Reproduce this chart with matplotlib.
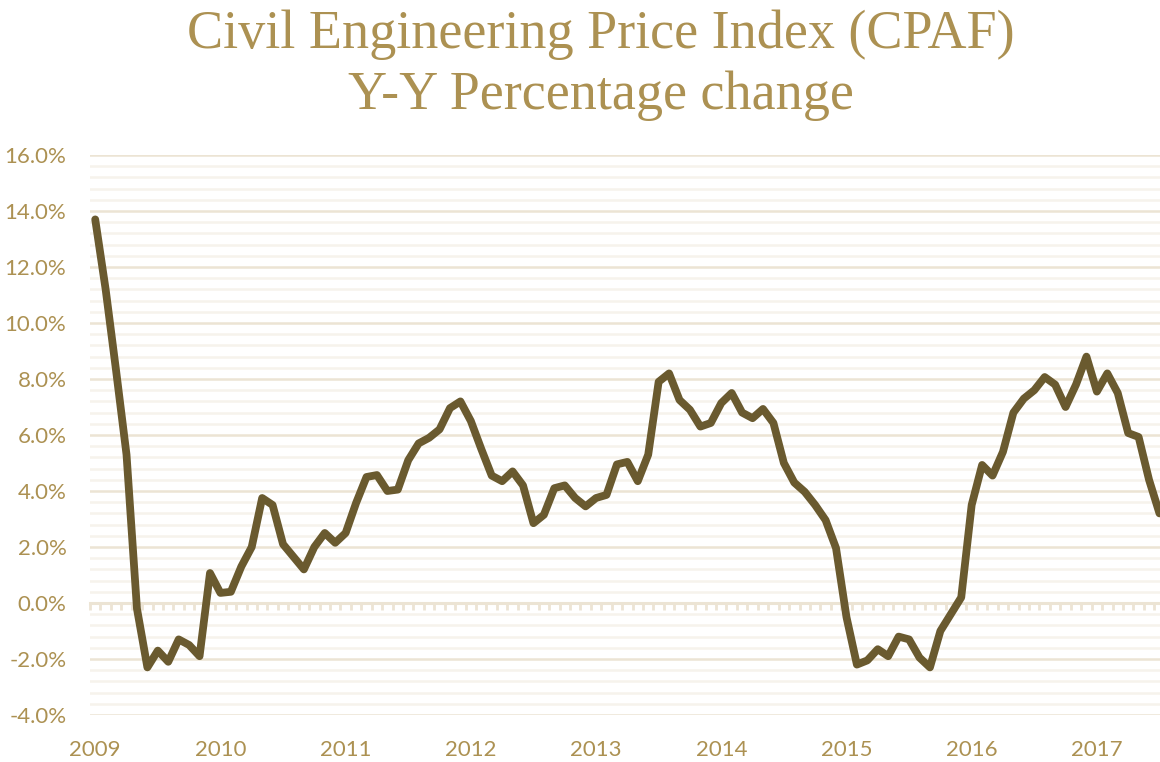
import matplotlib
matplotlib.use('Agg')
import matplotlib.pyplot as plt
from matplotlib.ticker import MultipleLocator, FixedLocator, NullFormatter, FuncFormatter

# monthly y/y change, Jan 2009 .. Jul 2017 (%)
yoy_change = [
    13.7, 11.2, 8.3, 5.3, -0.2, -2.3, -1.7, -2.1, -1.3, -1.5, -1.9, 1.07,
    0.36, 0.4, 1.3, 2.0, 3.75, 3.5, 2.1, 1.65, 1.2, 2.0, 2.5, 2.15,
    2.5, 3.57, 4.5, 4.57, 4.0, 4.05, 5.1, 5.7, 5.9, 6.2, 6.96, 7.2,
    6.5, 5.5, 4.55, 4.35, 4.7, 4.2, 2.85, 3.15, 4.1, 4.2, 3.75, 3.45,
    3.75, 3.86, 4.95, 5.04, 4.35, 5.3, 7.9, 8.2, 7.25, 6.9, 6.3, 6.43,
    7.14, 7.5, 6.8, 6.6, 6.93, 6.43, 5.0, 4.3, 3.97, 3.5, 2.96, 1.96,
    -0.5, -2.2, -2.05, -1.65, -1.9, -1.2, -1.3, -1.95, -2.3, -1.0, -0.4, 0.2,
    3.5, 4.93, 4.55, 5.4, 6.8, 7.3, 7.6, 8.07, 7.8, 7.0, 7.8, 8.8,
    7.55, 8.2, 7.5, 6.07, 5.93, 4.4, 3.2,
]
years = ['2009', '2010', '2011', '2012', '2013', '2014', '2015', '2016', '2017']

months = list(range(len(yoy_change)))
year_pos = [12 * i for i in range(len(years))]

GOLD = '#AC9152'
LINE = '#6A5A2F'
MAJOR = '#ECE4D4'
MINOR = '#F6F3EC'

fig = plt.figure(figsize=(11.6, 7.62), dpi=100)
ax = fig.add_axes([90 / 1160, 1 - 715 / 762, 1 - 90 / 1160, (715 - 155) / 762])

ax.plot(months, yoy_change, color=LINE, lw=5.6, solid_joinstyle='round',
        solid_capstyle='round', zorder=3)

ax.set_xlim(-0.5, months[-1] + 0.05)
ax.set_ylim(-4, 16)

ax.yaxis.set_major_locator(MultipleLocator(2))
ax.yaxis.set_minor_locator(MultipleLocator(0.4))
ax.yaxis.set_major_formatter(FuncFormatter(lambda v, p: '%.1f%%' % v))
ax.grid(axis='y', which='major', color=MAJOR, lw=1.8, zorder=0)
ax.grid(axis='y', which='minor', color=MINOR, lw=1.8, zorder=0)

ax.xaxis.set_major_locator(FixedLocator(year_pos))
ax.set_xticklabels(years)

for s in ax.spines.values():
    s.set_visible(False)
ax.tick_params(axis='both', which='both', length=0)
ax.tick_params(axis='y', labelsize=16, labelcolor=GOLD, pad=17)
ax.tick_params(axis='x', labelsize=16, labelcolor=GOLD, pad=18)
for lbl in ax.get_xticklabels() + ax.get_yticklabels():
    lbl.set_fontfamily('Lato')

# zero axis line with a tick at every month boundary
zero_ax = ax.secondary_xaxis(0.2)
zero_ax.spines['bottom'].set_color(MAJOR)
zero_ax.spines['bottom'].set_linewidth(2.2)
zero_ax.xaxis.set_major_locator(FixedLocator([m - 0.5 for m in months]))
zero_ax.xaxis.set_major_formatter(NullFormatter())
zero_ax.tick_params(axis='x', direction='out', length=5, width=2, color=MAJOR)

fig.text(0.518, 0.988, 'Civil Engineering Price Index (CPAF)\nY-Y Percentage change',
         ha='center', va='top', fontsize=39, color=GOLD, family='Liberation Serif',
         linespacing=1.28)

fig.savefig('out.png', dpi=100)
